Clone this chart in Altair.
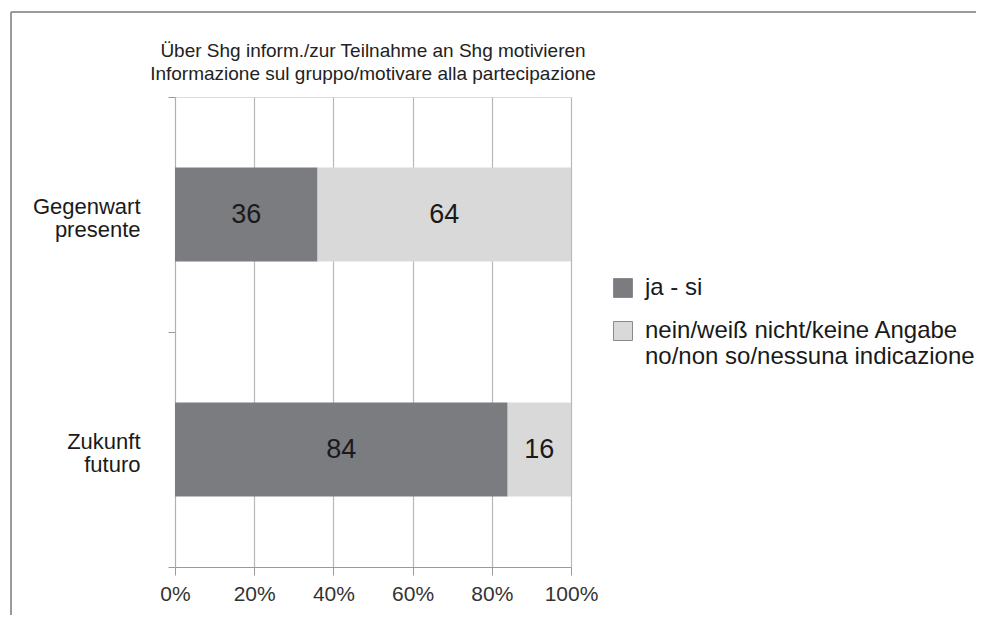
import altair as alt
import pandas as pd

categories = ["Gegenwart|presente", "Zukunft|futuro"]
responses = ["ja - si", "nein/weiß nicht/keine Angabe|no/non so/nessuna indicazione"]
ja_values = [36, 84]
nein_values = [64, 16]
colors = ["#7a7c80", "#d9d9d9"]
x_ticks = [0, 20, 40, 60, 80, 100]
title_lines = ["Über Shg inform./zur Teilnahme an Shg motivieren",
               "Informazione sul gruppo/motivare alla partecipazione"]

rows = []
for i, c in enumerate(categories):
    rows.append({"cat": c, "resp": responses[0], "value": ja_values[i], "ord": 0})
    rows.append({"cat": c, "resp": responses[1], "value": nein_values[i], "ord": 1})
df = pd.DataFrame(rows)

FONT = "Liberation Sans"

base = alt.Chart(df).transform_stack(
    stack="value", groupby=["cat"], as_=["v0", "v1"],
    sort=[alt.SortField("ord", order="ascending")]
).transform_calculate(mid="(datum.v0 + datum.v1) / 2")

y_enc = alt.Y("cat:N", sort=categories, title=None,
              scale=alt.Scale(paddingInner=0, paddingOuter=0),
              axis=alt.Axis(labelExpr="split(datum.label, '|')", labelFont=FONT,
                            labelFontSize=22, labelLineHeight=23, labelColor="#1a1a1a",
                            labelAlign="right", labelPadding=28, labelOffset=-8,
                            tickBand="extent", tickSize=7, tickColor="#9a9a9a",
                            domainColor="#b0b0b0", grid=False))

bars = base.mark_bar(height=alt.RelativeBandSize(0.4)).encode(
    x=alt.X("v0:Q", scale=alt.Scale(domain=[0, 100], nice=False), title=None,
            axis=alt.Axis(values=x_ticks, labelExpr="datum.value + '%'", labelFont=FONT,
                          labelFontSize=21, labelColor="#333333", labelPadding=8,
                          labelFlush=False,
                          tickSize=8, tickColor="#9a9a9a", domainColor="#9a9a9a",
                          grid=True, gridColor="#b8b8b8", gridWidth=1.2)),
    x2="v1:Q",
    y=y_enc,
    color=alt.Color("resp:N", scale=alt.Scale(domain=responses, range=colors), title=None,
                    legend=alt.Legend(orient="none", legendX=436, legendY=179,
                                      labelExpr="split(datum.label, '|')", labelFont=FONT,
                                      labelFontSize=24, labelColor="#1a1a1a",
                                      symbolType="square", symbolSize=361, labelOffset=10,
                                      symbolStrokeColor="#8a8a8a", symbolStrokeWidth=1,
                                      rowPadding=19, labelLimit=600)),
)

labels = base.mark_text(font=FONT, fontSize=27, color="#1a1a1a").encode(
    x="mid:Q",
    y=alt.Y("cat:N", sort=categories),
    text="value:Q",
)

frame_data = alt.Data(values=[{"k": 1}])
top_line = alt.Chart(frame_data).mark_rule(color="#9a9a9a", strokeWidth=2).encode(
    x=alt.value(-164), x2=alt.value(820), y=alt.value(-85))
left_line = alt.Chart(frame_data).mark_rule(color="#9a9a9a", strokeWidth=2).encode(
    x=alt.value(-164), y=alt.value(-85), y2=alt.value(530))

chart = alt.layer(bars, labels, top_line, left_line).properties(
    width=396, height=470,
    title=alt.TitleParams(text=title_lines, font=FONT, fontSize=19, fontWeight="normal",
                          color="#222222", lineHeight=23, anchor="middle", offset=-73),
    padding={"left": 167, "top": 89, "right": 405, "bottom": 48},
    autosize=alt.AutoSizeParams(type="none"),
).configure_view(stroke=None).configure(background="white")

chart.save("out.html", embed_options={"renderer": "svg", "actions": False})
